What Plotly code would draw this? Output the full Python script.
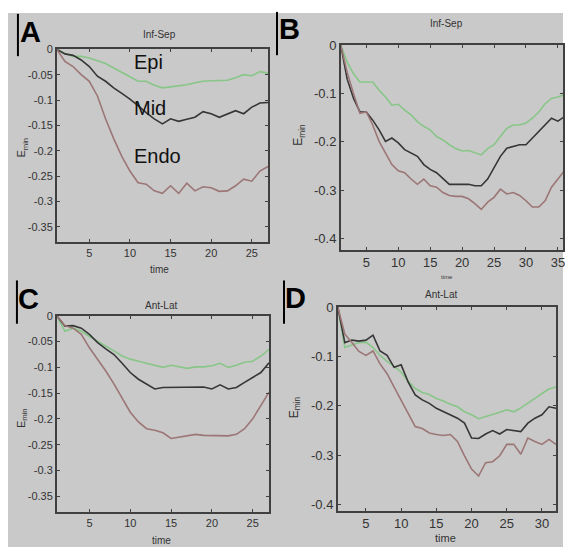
import plotly.graph_objects as go

W, H = 565, 550

# ---------------- data ----------------
time_A = list(range(1, 28))
epi_A = [0, -0.008, -0.014, -0.014, -0.017, -0.022, -0.028, -0.037, -0.045, -0.054, -0.063, -0.063, -0.071,
         -0.076, -0.074, -0.072, -0.070, -0.066, -0.063, -0.062, -0.062, -0.061, -0.056, -0.050, -0.052, -0.044, -0.047]
mid_A = [0, -0.009, -0.012, -0.021, -0.034, -0.053, -0.063, -0.076, -0.087, -0.098, -0.111, -0.125, -0.137,
         -0.147, -0.137, -0.142, -0.138, -0.134, -0.123, -0.127, -0.134, -0.127, -0.121, -0.127, -0.114, -0.106, -0.105]
endo_A = [0, -0.024, -0.034, -0.050, -0.063, -0.092, -0.137, -0.176, -0.211, -0.240, -0.263, -0.266, -0.279,
          -0.284, -0.269, -0.284, -0.264, -0.279, -0.271, -0.273, -0.280, -0.279, -0.269, -0.256, -0.260, -0.240, -0.231]

time_B = list(range(1, 37))
epi_B = [0, -0.035, -0.059, -0.076, -0.076, -0.076, -0.093, -0.107, -0.124, -0.122, -0.134, -0.144, -0.158,
         -0.168, -0.175, -0.189, -0.196, -0.206, -0.214, -0.219, -0.218, -0.223, -0.227, -0.214, -0.206, -0.189,
         -0.172, -0.165, -0.165, -0.161, -0.151, -0.138, -0.121, -0.110, -0.107, -0.102]
mid_B = [0, -0.070, -0.110, -0.138, -0.138, -0.155, -0.175, -0.199, -0.192, -0.202, -0.216, -0.223, -0.230,
         -0.247, -0.257, -0.264, -0.277, -0.288, -0.288, -0.288, -0.288, -0.291, -0.291, -0.277, -0.253, -0.230,
         -0.213, -0.209, -0.206, -0.206, -0.192, -0.179, -0.165, -0.151, -0.157, -0.148]
endo_B = [0, -0.056, -0.100, -0.141, -0.138, -0.165, -0.199, -0.223, -0.247, -0.260, -0.264, -0.277, -0.288,
          -0.277, -0.291, -0.294, -0.305, -0.311, -0.313, -0.313, -0.318, -0.328, -0.340, -0.325, -0.315, -0.298,
          -0.308, -0.305, -0.311, -0.322, -0.335, -0.335, -0.322, -0.294, -0.277, -0.260]

time_C = list(range(1, 28))
epi_C = [0, -0.030, -0.024, -0.030, -0.040, -0.049, -0.059, -0.068, -0.078, -0.084, -0.088, -0.092, -0.096,
         -0.100, -0.096, -0.099, -0.102, -0.099, -0.099, -0.097, -0.092, -0.100, -0.096, -0.090, -0.088, -0.078, -0.065]
mid_C = [0, -0.020, -0.019, -0.024, -0.036, -0.052, -0.064, -0.075, -0.092, -0.110, -0.123, -0.132, -0.142,
         -0.139, -0.139, -0.139, -0.139, -0.138, -0.138, -0.142, -0.134, -0.142, -0.139, -0.129, -0.120, -0.110, -0.091]
endo_C = [0, -0.019, -0.024, -0.036, -0.062, -0.084, -0.107, -0.132, -0.161, -0.187, -0.206, -0.219, -0.222,
          -0.227, -0.238, -0.235, -0.233, -0.230, -0.232, -0.232, -0.232, -0.233, -0.230, -0.219, -0.200, -0.174, -0.148]

time_D = list(range(1, 33))
epi_D = [0, -0.082, -0.077, -0.072, -0.071, -0.082, -0.098, -0.110, -0.120, -0.132, -0.150, -0.165, -0.173,
         -0.177, -0.185, -0.190, -0.197, -0.202, -0.212, -0.218, -0.226, -0.222, -0.217, -0.213, -0.208, -0.212,
         -0.204, -0.195, -0.185, -0.175, -0.166, -0.162]
mid_D = [0, -0.072, -0.067, -0.069, -0.067, -0.057, -0.089, -0.098, -0.122, -0.117, -0.152, -0.178, -0.188,
         -0.195, -0.205, -0.212, -0.218, -0.225, -0.235, -0.265, -0.266, -0.257, -0.250, -0.257, -0.248, -0.250,
         -0.252, -0.235, -0.225, -0.218, -0.202, -0.205]
endo_D = [0, -0.055, -0.072, -0.090, -0.098, -0.089, -0.115, -0.135, -0.162, -0.188, -0.215, -0.242, -0.246,
          -0.255, -0.258, -0.260, -0.258, -0.272, -0.301, -0.328, -0.342, -0.315, -0.313, -0.301, -0.278, -0.278,
          -0.298, -0.265, -0.272, -0.278, -0.268, -0.278]

yticks_small = [0, -0.05, -0.1, -0.15, -0.2, -0.25, -0.3, -0.35]
yticklabels_small = ["0", "-0.05", "-0.1", "-0.15", "-0.2", "-0.25", "-0.3", "-0.35"]
yticks_big = [0, -0.1, -0.2, -0.3, -0.4]
yticklabels_big = ["0", "-0.1", "-0.2", "-0.3", "-0.4"]
xticks_A = [5, 10, 15, 20, 25]
xticks_B = [5, 10, 15, 20, 25, 30, 35]
xticks_D = [5, 10, 15, 20, 25, 30]

panel_titles = ["Inf-Sep", "Inf-Sep", "Ant-Lat", "Ant-Lat"]
panel_letters = ["A", "B", "C", "D"]
layer_names = ["Epi", "Mid", "Endo"]

# ---------------- styling ----------------
GREEN = "#88c688"
DARK = "#363636"
MAUVE = "#9c7676"
GRAY = "#c9c9c9"
AXC = "#404040"
FONT = "Liberation Sans, Arial, sans-serif"


def px(x):
    return x / W


def py(y):
    return 1 - y / H


panels = [
    (time_A, epi_A, mid_A, endo_A, [1, 27], [-0.38, 0], xticks_A, yticks_small, yticklabels_small, (57, 269), (43, 239), 11),
    (time_B, epi_B, mid_B, endo_B, [1, 35.8], [-0.424, 0], xticks_B, yticks_big, yticklabels_big, (342, 565), (39, 247), 13),
    (time_C, epi_C, mid_C, endo_C, [1, 27], [-0.38, 0], xticks_A, yticks_small, yticklabels_small, (57, 270), (314, 513), 11),
    (time_D, epi_D, mid_D, endo_D, [1, 32], [-0.412, 0], xticks_D, yticks_big, yticklabels_big, (339, 558), (305, 512), 13),
]

fig = go.Figure()
layout = dict(
    width=W, height=H,
    margin=dict(l=0, r=0, t=0, b=0),
    paper_bgcolor="white",
    plot_bgcolor="white",
    showlegend=False,
    font=dict(family=FONT, color="#333"),
)

for i, (t, e, m, n, xr, yr, xt, yt, ytl, xd, yd, tf) in enumerate(panels):
    k = "" if i == 0 else str(i + 1)
    xa, ya = "x" + k, "y" + k
    for vals, col in ((e, GREEN), (m, DARK), (n, MAUVE)):
        fig.add_trace(go.Scatter(x=t, y=vals, mode="lines", xaxis=xa, yaxis=ya,
                                 line=dict(color=col, width=1.6), hoverinfo="skip"))
    common = dict(showgrid=False, zeroline=False, showline=True, linecolor=AXC, linewidth=1.6,
                  mirror="ticks", ticks="inside", ticklen=3, tickcolor=AXC, tickwidth=1,
                  ticklabeloverflow="allow",
                  tickfont=dict(size=tf, family=FONT, color="#333"))
    layout["xaxis" + k] = dict(domain=[px(xd[0]), px(xd[1])], range=xr, anchor=ya,
                               tickvals=xt, ticktext=[str(v) for v in xt], **common)
    layout["yaxis" + k] = dict(domain=[py(yd[1]), py(yd[0])], range=yr, anchor=xa,
                               tickvals=yt, ticktext=ytl, **common)

shapes = [dict(type="rect", xref="paper", yref="paper", x0=px(8), x1=1, y0=py(549), y1=py(6),
               fillcolor=GRAY, line=dict(width=0), layer="below")]
for (lx, y0, y1) in [(18, 7, 50), (278, 5, 49), (17, 278, 322), (285, 278, 322)]:
    shapes.append(dict(type="line", xref="paper", yref="paper", x0=px(lx), x1=px(lx),
                       y0=py(y1), y1=py(y0), line=dict(color="black", width=2)))
layout["shapes"] = shapes

ann = []
for letter, (cx, cy) in zip(panel_letters, [(31, 25), (291, 22), (29, 297), (297, 296)]):
    ann.append(dict(text="<b>%s</b>" % letter, x=px(cx), y=py(cy), xref="paper", yref="paper",
                    showarrow=False, font=dict(size=29, family=FONT, color="black"),
                    xanchor="center", yanchor="middle"))
for title, (cx, cy) in zip(panel_titles, [(160, 28), (448, 17), (162, 303), (443, 292)]):
    ann.append(dict(text=title, x=px(cx), y=py(cy), xref="paper", yref="paper", showarrow=False,
                    font=dict(size=10, family=FONT, color="#333"), xanchor="center", yanchor="middle"))
for (cx, cy, fs) in [(160, 267, 10), (449, 274, 6), (162, 542, 10), (447, 540, 11)]:
    ann.append(dict(text="time", x=px(cx), y=py(cy), xref="paper", yref="paper", showarrow=False,
                    font=dict(size=fs, family=FONT, color="#333"), xanchor="center", yanchor="middle"))
for (cx, cy, fs) in [(22, 143, 11), (300, 130, 12), (22, 418, 11), (296, 407, 12)]:
    ann.append(dict(text="E<sub>min</sub>", x=px(cx), y=py(cy), xref="paper", yref="paper",
                    showarrow=False, textangle=-90, font=dict(size=fs, family=FONT, color="#333"),
                    xanchor="center", yanchor="middle"))
for name, (lx, cy) in zip(layer_names, [(132, 56), (132, 103), (132, 151)]):
    ann.append(dict(text=name, x=px(lx), y=py(cy), xref="paper", yref="paper", showarrow=False,
                    font=dict(size=20, family=FONT, color="#111"), xanchor="left", yanchor="middle"))
layout["annotations"] = ann

fig.update_layout(**layout)
fig.write_html("out.html", config={"displayModeBar": False},
               post_script="document.body.style.margin='0';document.body.style.padding='0';")
